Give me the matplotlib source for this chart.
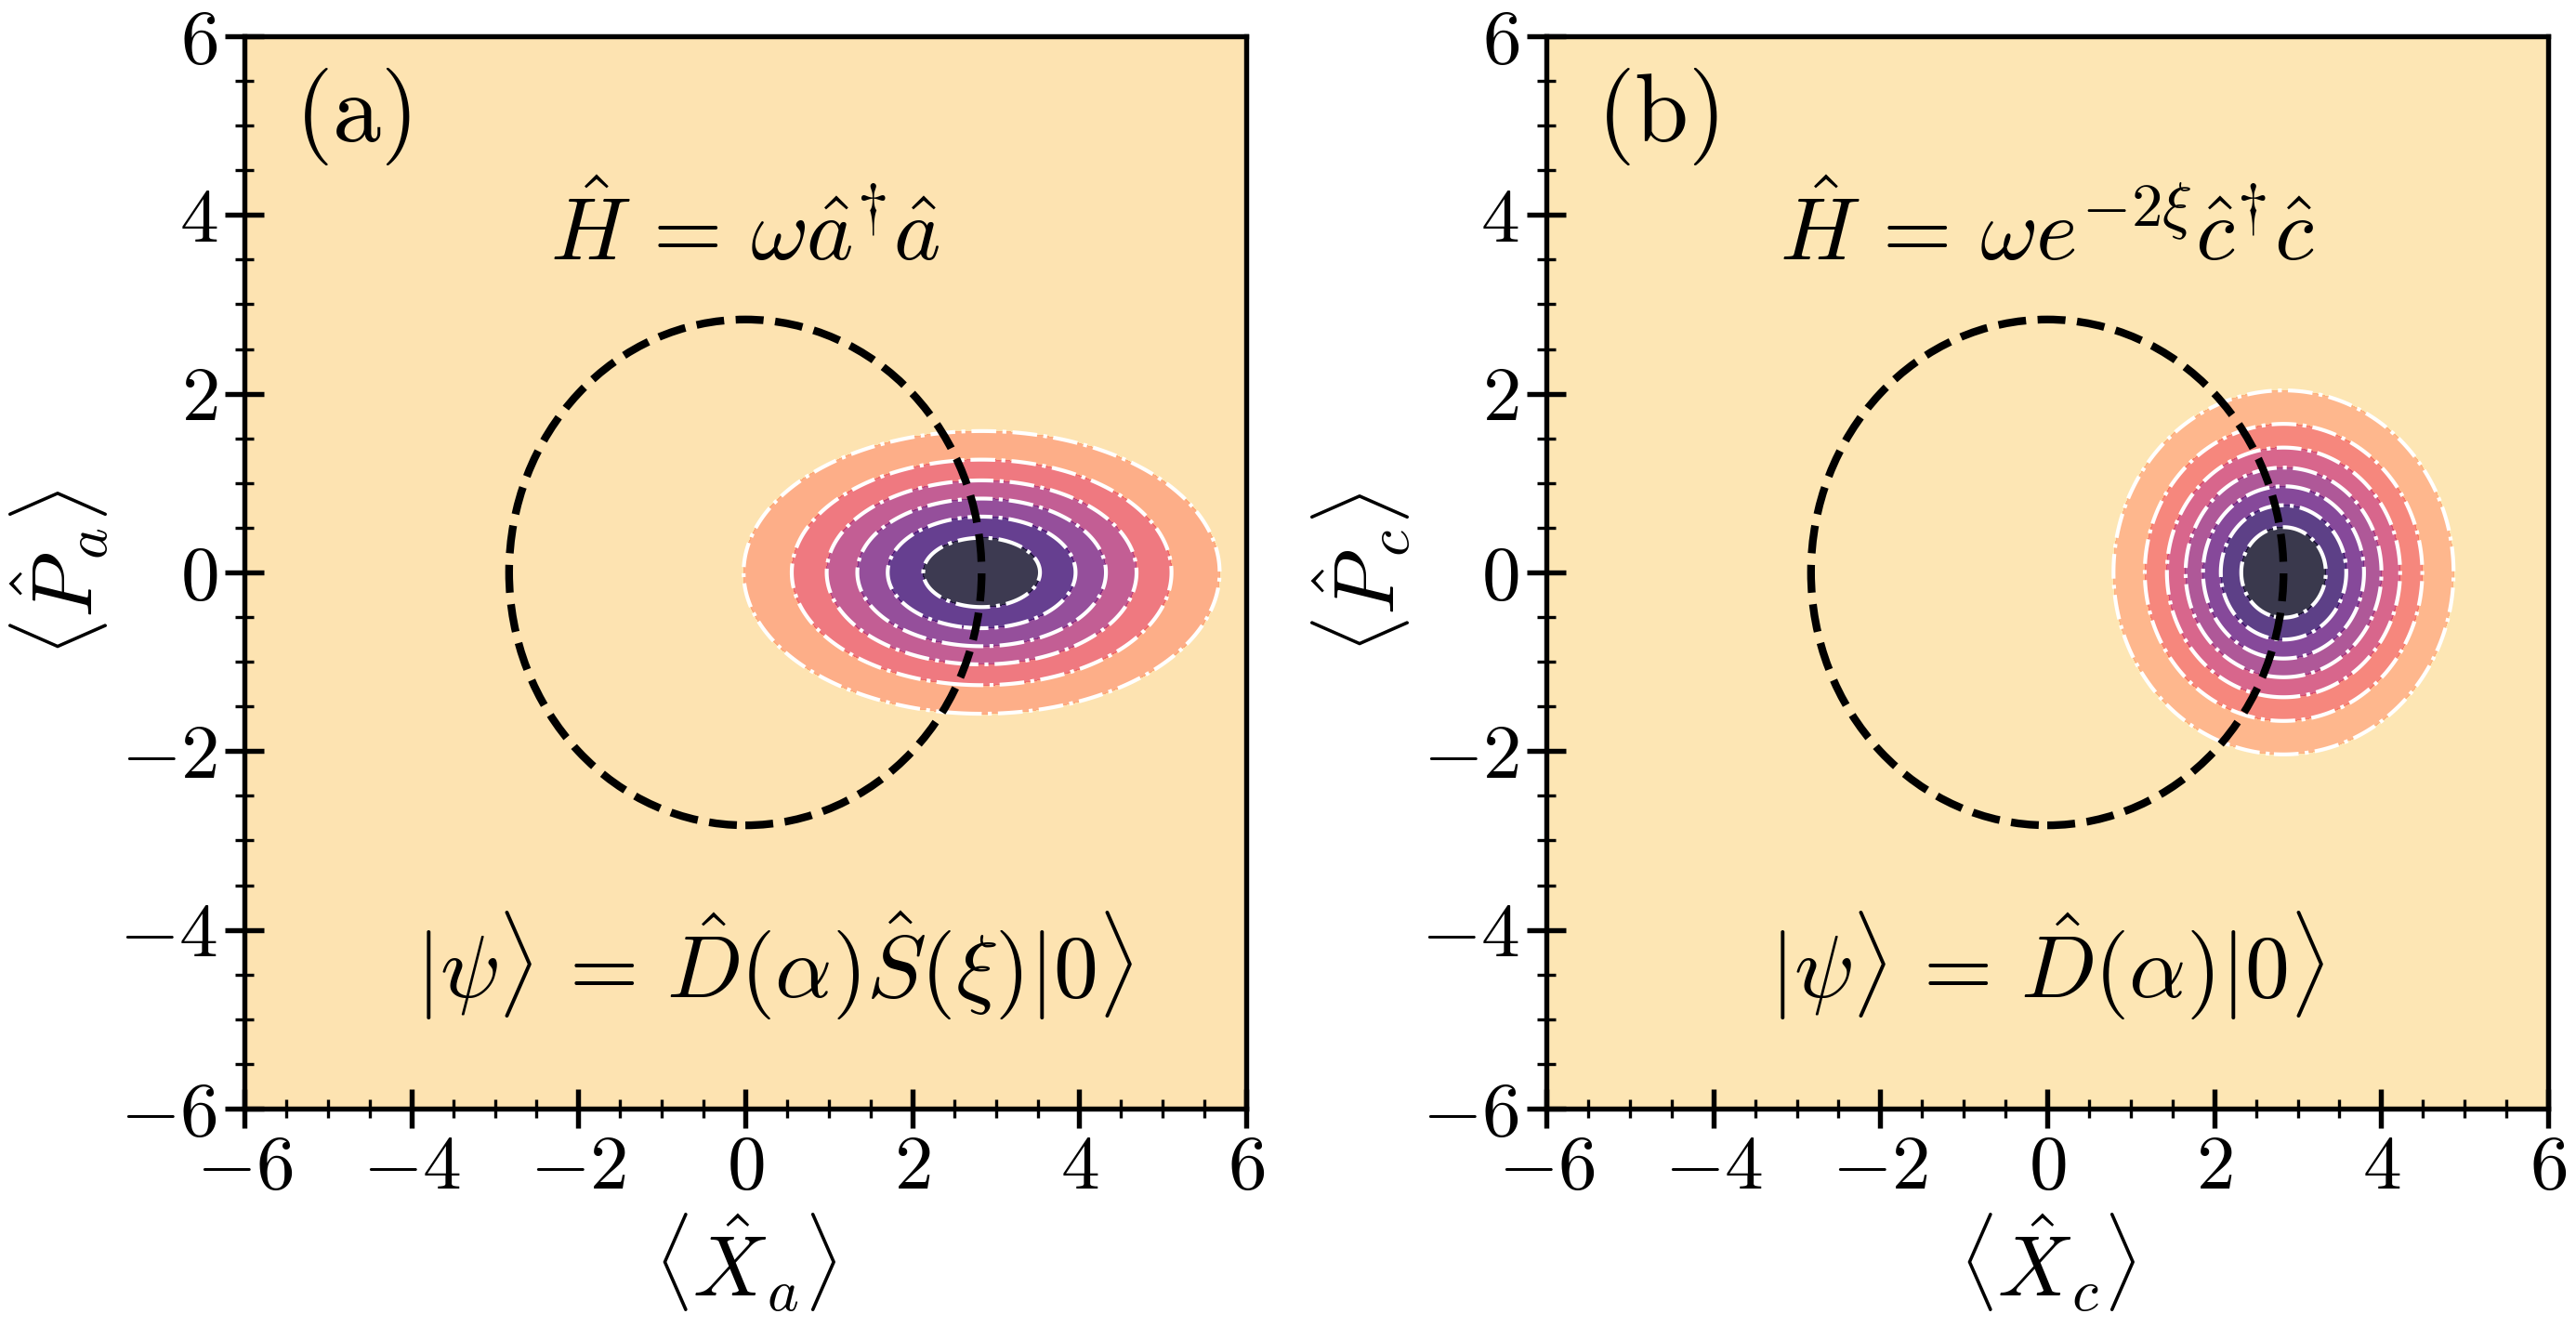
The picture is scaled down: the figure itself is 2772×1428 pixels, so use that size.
import numpy as np
import matplotlib
matplotlib.use("Agg")
import matplotlib.pyplot as plt
from matplotlib.patches import Circle
from matplotlib.ticker import MultipleLocator, FuncFormatter

# Computer Modern look via mathtext.
plt.rcParams['mathtext.fontset'] = 'cm'
plt.rcParams['font.family'] = 'serif'
plt.rcParams['font.serif'] = ['cmr10', 'DejaVu Serif']
plt.rcParams['axes.unicode_minus'] = False

# Phase-space parameters.
panels = ['a', 'c']
tags = ['(a)', '(b)']
centre_x = [2.83, 2.83]          # displacement along X
centre_y = [0.0, 0.0]
sigma_x = [1.46, 1.0]            # widths of the Gaussian Wigner function
sigma_y = [0.81, 1.0]
level_tops = [0.14, 0.16]        # contour levels run 0 .. top in steps of 0.02
level_step = 0.02
orbit_radius = 2.83              # dashed circle (classical orbit)

hamiltonians = [r'$\hat{H}\,=\,\omega\hat{a}^{\dagger}\hat{a}$',
                r'$\hat{H}\,=\,\omega e^{-2\xi}\hat{c}^{\dagger}\hat{c}$']
states = [r'$|\psi\rangle\,=\,\hat{D}(\alpha)\hat{S}(\xi)|0\rangle$',
          r'$|\psi\rangle\,=\,\hat{D}(\alpha)|0\rangle$']
state_x = [0.35, 0.0]

# Grid.
x = np.linspace(-6, 6, 600)
y = np.linspace(-6, 6, 600)
X, Y = np.meshgrid(x, y)

fig = plt.figure(figsize=(9.24, 4.76), dpi=300)
lefts = [0.0949, 0.6003]

for i in range(2):
    ax = fig.add_axes([lefts[i], 0.1646, 0.3889, 0.8081])

    sx, sy = sigma_x[i], sigma_y[i]
    W = np.exp(-(X - centre_x[i])**2 / (2 * sx**2) - (Y - centre_y[i])**2 / (2 * sy**2)) \
        / (2 * np.pi * sx * sy)
    levels = np.arange(0, level_tops[i] + level_step / 2, level_step)

    ax.contourf(X, Y, W, levels=levels, cmap='magma_r', alpha=0.8)
    ax.contour(X, Y, W, levels=levels[1:-1], colors='white',
               linestyles='-.', linewidths=1.0)

    ax.add_patch(Circle((0, 0), orbit_radius, fill=False, ls=(0, (3.6, 1.5)),
                        lw=2.0, color='black', zorder=5))

    # Annotations.
    ax.text(-5.4, 5.1, r'$\mathrm{' + tags[i] + '}$', fontsize=25,
            ha='left', va='center')
    ax.text(0, 3.8, hamiltonians[i], fontsize=23, ha='center', va='center')
    ax.text(state_x[i], -4.4, states[i], fontsize=23, ha='center', va='center')

    # Axes.
    ax.set_xlim(-6, 6)
    ax.set_ylim(-6, 6)
    ax.xaxis.set_major_locator(MultipleLocator(2))
    ax.yaxis.set_major_locator(MultipleLocator(2))
    ax.xaxis.set_minor_locator(MultipleLocator(0.5))
    ax.yaxis.set_minor_locator(MultipleLocator(0.5))
    fmt = FuncFormatter(lambda v, pos: r'$%g$' % v)
    ax.xaxis.set_major_formatter(fmt)
    ax.yaxis.set_major_formatter(fmt)
    ax.tick_params(which='major', direction='inout', length=10, width=1.3,
                   labelsize=20, pad=2)
    ax.tick_params(which='minor', direction='inout', length=5, width=0.8)
    for sp in ax.spines.values():
        sp.set_linewidth(1.3)

    p = panels[i]
    ax.set_xlabel(r'$\left\langle \hat{X}_' + p + r' \right\rangle$', fontsize=22,
                  labelpad=2)
    ax.set_ylabel(r'$\left\langle \hat{P}_' + p + r' \right\rangle$', fontsize=22,
                  labelpad=2)

fig.savefig('out.png', dpi=300)
